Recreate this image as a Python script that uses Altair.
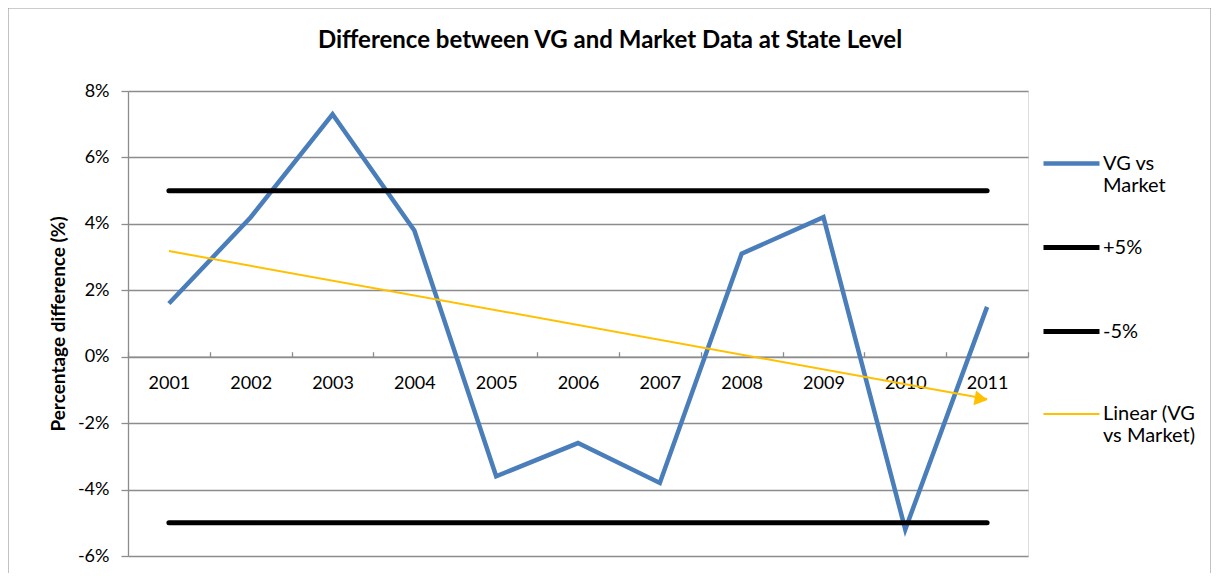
import altair as alt
import pandas as pd

# ---------------- data ----------------
years = [2001, 2002, 2003, 2004, 2005, 2006, 2007, 2008, 2009, 2010, 2011]
vg_vs_market = [1.6, 4.2, 7.3, 3.8, -3.6, -2.6, -3.8, 3.1, 4.2, -5.2, 1.5]
upper_limit = [5] * 11
lower_limit = [-5] * 11
series_names = ["VG vs Market", "+5%", "-5%", "Linear (VG vs Market)"]
y_ticks = [-6, -4, -2, 0, 2, 4, 6, 8]
year_boundaries = [2000.5 + i for i in range(12)]

# ---------------- styles ----------------
series_colors = ["#4A7EBB", "#000000", "#000000", "#FFC000"]
series_widths = [4.5, 5, 5, 2]
FONT = "Lato"
GRID = "#8C8C8C"
W, H = 900, 465
Y_MIN, Y_MAX = -6, 8
bottom_offset = -H * (0 - Y_MIN) / (Y_MAX - Y_MIN)
top_offset = -H * (Y_MAX - 0) / (Y_MAX - Y_MIN)

vg_df = pd.DataFrame({"year": years, "pct": vg_vs_market, "series": series_names[0]})
plus_df = pd.DataFrame({"year": years, "pct": upper_limit, "series": series_names[1]})
minus_df = pd.DataFrame({"year": years, "pct": lower_limit, "series": series_names[2]})

x_scale = alt.Scale(domain=[2000.5, 2011.5], nice=False, zero=False)
y_scale = alt.Scale(domain=[Y_MIN, Y_MAX], nice=False, zero=False)

y_enc = alt.Y(
    "pct:Q", scale=y_scale,
    axis=alt.Axis(
        values=y_ticks, labelExpr="datum.value + '%'",
        title="Percentage difference (%)",
        grid=True, gridColor=GRID, gridWidth=1.3,
        domainColor=GRID, domainWidth=1.3,
        tickColor=GRID, tickSize=7, tickWidth=1.3,
        labelFont=FONT, labelFontSize=18, labelColor="black", labelPadding=12,
        titleFont=FONT, titleFontSize=19, titleFontWeight="bold", titleColor="black",
        titlePadding=9,
    ),
)

legend = alt.Legend(
    title=None, orient="none", legendX=913, legendY=42,
    symbolType="stroke", symbolSize=3136,
    labelFont=FONT, labelFontSize=20, labelColor="black", labelOffset=1,
    labelExpr=(
        "datum.label == 'VG vs Market' ? ['VG vs', 'Market'] : "
        "datum.label == 'Linear (VG vs Market)' ? ['Linear (VG', 'vs Market)'] : "
        "[datum.label, '']"
    ),
    rowPadding=21, padding=0, labelLimit=300,
)

color_enc = alt.Color("series:N", scale=alt.Scale(domain=series_names, range=series_colors), legend=legend)
width_enc = alt.StrokeWidth("series:N", scale=alt.Scale(type="ordinal", domain=series_names, range=series_widths), legend=legend)

x_labels = alt.X(
    "year:Q", scale=x_scale,
    axis=alt.Axis(
        orient="bottom", values=years, format="d", domain=False, ticks=False, tickSize=0,
        grid=False, labelFont=FONT, labelFontSize=18, labelColor="black",
        labelPadding=18, offset=bottom_offset, title=None, labelFlush=False, labelOverlap=False,
    ),
)
x_ticks = alt.X(
    "year:Q", scale=x_scale,
    axis=alt.Axis(
        orient="top", values=year_boundaries, labels=False, ticks=True, tickSize=5,
        tickColor=GRID, tickWidth=1.3, domain=True, domainColor=GRID, domainWidth=1.3,
        grid=False, offset=top_offset, title=None,
    ),
)
x_plain = alt.X("year:Q", scale=x_scale, axis=None)

frame = alt.Chart(pd.DataFrame({"f": [0]})).mark_rect(
    fill=None, stroke="#9A9A9A", strokeWidth=1.2
).encode(x=alt.value(-120), x2=alt.value(1083), y=alt.value(-83), y2=alt.value(520))

vg_line = alt.Chart(vg_df).mark_line().encode(
    x=x_labels, y=y_enc, color=color_enc, strokeWidth=width_enc
)
plus_line = alt.Chart(plus_df).mark_line(strokeCap="round").encode(
    x=x_ticks, y=y_enc, color=color_enc, strokeWidth=width_enc
)
minus_line = alt.Chart(minus_df).mark_line(strokeCap="round").encode(
    x=x_plain, y=y_enc, color=color_enc, strokeWidth=width_enc
)
trend = alt.Chart(vg_df).transform_regression(
    "year", "pct", extent=[2001, 2011]
).transform_calculate(series="'Linear (VG vs Market)'").mark_line().encode(
    x=x_plain, y=y_enc, color=color_enc, strokeWidth=width_enc
)
arrow = alt.Chart(vg_df).transform_regression(
    "year", "pct", extent=[2001, 2011]
).transform_filter("datum.year > 2010.9").mark_point(
    shape="triangle-right", filled=True, size=220, angle=10, opacity=1, color="#FFC000"
).encode(x=x_plain, y=y_enc, xOffset=alt.value(-6))

chart = alt.layer(frame, vg_line, plus_line, minus_line, trend, arrow).resolve_axis(
    x="independent"
).properties(
    width=W, height=H,
    autosize=alt.AutoSizeParams(type="none"),
    padding={"left": 120, "top": 83, "right": 183, "bottom": 17},
    title=alt.TitleParams(
        "Difference between VG and Market Data at State Level",
        font=FONT, fontSize=24, fontWeight="bold", color="black",
        anchor="middle", frame="group", dx=32, offset=-65, baseline="alphabetic",
    ),
).configure_view(stroke=None).configure(background="white")

chart.save("out.html", embed_options={"renderer": "svg", "actions": False})
